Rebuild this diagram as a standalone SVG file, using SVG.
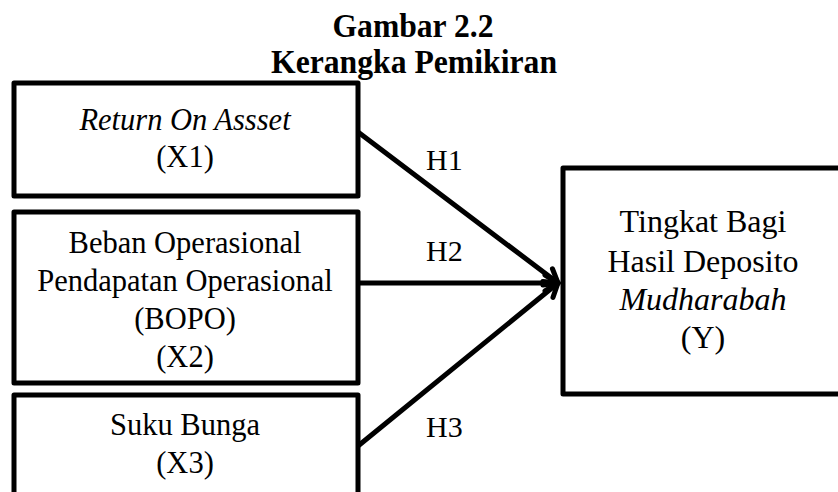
<svg xmlns="http://www.w3.org/2000/svg" width="838" height="492" viewBox="0 0 838 492">
<defs>
<style>
.box{fill:#fff;stroke:#000;stroke-width:5;stroke-linejoin:round}
.t{font-family:"Liberation Serif","Times New Roman",serif;font-size:30.5px;fill:#000;text-anchor:middle}
.ty{font-size:32px}
.i{font-style:italic}
.title{font-family:"Liberation Serif","Times New Roman",serif;font-size:33px;font-weight:bold;fill:#000;text-anchor:middle}
.lbl{font-family:"Liberation Serif","Times New Roman",serif;font-size:30px;fill:#000}
.conn{stroke:#000;stroke-width:5;fill:none;stroke-linecap:round}
</style>
<marker id="arr" markerUnits="userSpaceOnUse" viewBox="-16 -11 19 22" refX="0" refY="0" markerWidth="19" markerHeight="22" orient="auto">
<path d="M-13,-8 L0,0 L-13,8" fill="none" stroke="#000" stroke-width="5" stroke-linecap="round" stroke-linejoin="round"/>
</marker>
</defs>
<rect width="838" height="492" fill="#fff"/>
<g id="title">
<text class="title" x="413" y="37" textLength="161" lengthAdjust="spacingAndGlyphs">Gambar 2.2</text>
<text class="title" x="414" y="73" textLength="286" lengthAdjust="spacingAndGlyphs">Kerangka Pemikiran</text>
</g>
<g id="connectors">
<line class="conn" x1="358" y1="132" x2="558" y2="283" marker-end="url(#arr)"/>
<line class="conn" x1="358" y1="283" x2="558" y2="283" marker-end="url(#arr)"/>
<line class="conn" x1="358" y1="446" x2="558" y2="283" marker-end="url(#arr)"/>
<text class="lbl" x="426" y="170">H1</text>
<text class="lbl" x="426" y="261">H2</text>
<text class="lbl" x="426" y="437">H3</text>
</g>
<g id="x1">
<rect class="box" x="14" y="83" width="344" height="113"/>
<text class="t i" x="185" y="130">Return On Assset</text>
<text class="t" x="185" y="167">(X1)</text>
</g>
<g id="x2">
<rect class="box" x="14" y="212" width="344" height="171"/>
<text class="t" x="185" y="253">Beban Operasional</text>
<text class="t" x="185" y="291">Pendapatan Operasional</text>
<text class="t" x="185" y="329">(BOPO)</text>
<text class="t" x="185" y="367">(X2)</text>
</g>
<g id="x3">
<rect class="box" x="14" y="395" width="344" height="120"/>
<text class="t" x="185" y="435">Suku Bunga</text>
<text class="t" x="185" y="473">(X3)</text>
</g>
<g id="y">
<rect class="box" x="563" y="168" width="300" height="226"/>
<text class="t ty" x="703" y="232">Tingkat Bagi</text>
<text class="t ty" x="703" y="272">Hasil Deposito</text>
<text class="t ty i" x="703" y="310">Mudharabah</text>
<text class="t ty" x="703" y="348">(Y)</text>
</g>
</svg>
